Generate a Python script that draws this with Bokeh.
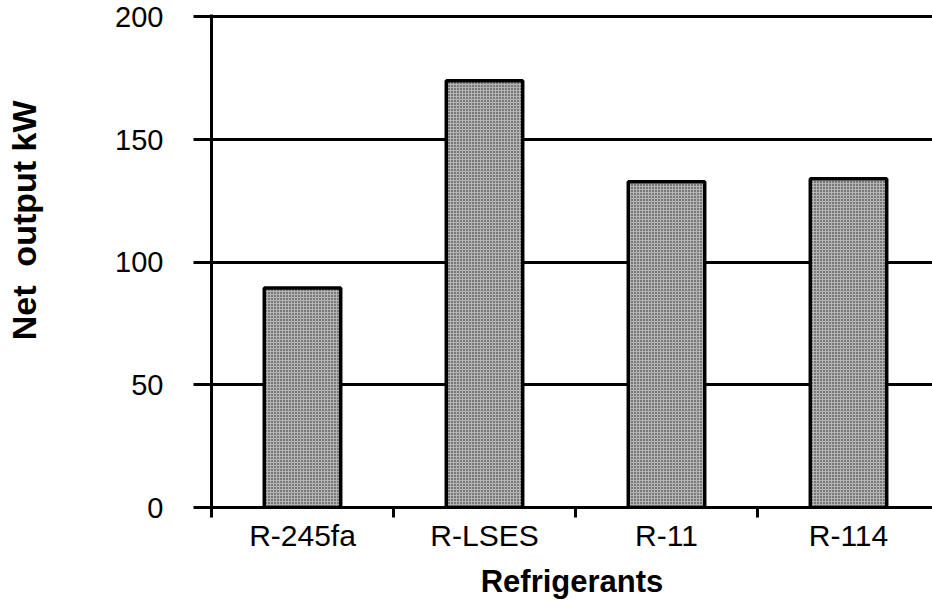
import math
from bokeh.plotting import figure
from bokeh.layouts import row
from bokeh.models import Range1d, FixedTicker, ColumnDataSource
from bokeh.core.properties import value
from bokeh.embed import file_html
from bokeh.resources import INLINE

categories = ["R-245fa", "R-LSES", "R-11", "R-114"]
net_output = [89.5, 174, 132.8, 134]
y_ticks = [0, 50, 100, 150, 200]
y_title = "Net\u00a0 output kW"
x_title = "Refrigerants"

centers = [i + 0.5 for i in range(len(categories))]
boundaries = list(range(len(categories)))
src = ColumnDataSource(dict(x=centers, top=net_output, cat=categories))

W, H = 932, 601
LEFT_W = 60                       # narrow strip holding the y title
FRAME_LEFT, FRAME_BOTTOM = 211, 507
CAT_PX = 182
FONT = "Liberation Sans"

# ---- left strip with the rotated y-axis title ----
lt = figure(width=LEFT_W, height=H, output_backend="svg", toolbar_location=None,
            x_range=Range1d(0, LEFT_W), y_range=Range1d(0, H),
            x_axis_type=None, y_axis_type=None,
            min_border_left=0, min_border_right=0, min_border_top=0, min_border_bottom=0)
lt.outline_line_color = None
lt.grid.visible = False
lt.background_fill_color = "white"
lt.border_fill_color = "white"
lt.text(x=[23.5], y=[H - 251], text=[y_title], angle=math.pi / 2,
        text_align="center", text_baseline="middle",
        text_font=value(FONT), text_font_style="bold", text_font_size="34px",
        text_color="black")

# ---- main chart ----
MW = W - LEFT_W
p = figure(width=MW, height=H, output_backend="svg", toolbar_location=None,
           x_range=Range1d(0, (W - FRAME_LEFT) / CAT_PX), y_range=Range1d(0, 201),
           min_border_left=FRAME_LEFT - LEFT_W, min_border_right=0, min_border_top=14,
           min_border_bottom=H - FRAME_BOTTOM)
p.outline_line_color = None
p.background_fill_color = "white"
p.border_fill_color = "white"

p.vbar(x="x", top="top", bottom=0, width=0.42, source=src,
       fill_color="#b4b4b4", line_color="black", line_width=3.5,
       hatch_pattern="dot", hatch_color="#1e1e1e", hatch_scale=3, hatch_weight=1.5)

# x axis
xa = p.xaxis[0]
xa.ticker = FixedTicker(ticks=centers, minor_ticks=boundaries)
xa.major_label_overrides = {c: n for c, n in zip(centers, categories)}
xa.major_tick_line_color = None
xa.major_tick_out = 0
xa.major_tick_in = 0
xa.minor_tick_out = 10
xa.minor_tick_in = 0
xa.minor_tick_line_color = "black"
xa.minor_tick_line_width = 3
xa.axis_line_width = 3
xa.axis_line_color = "black"
xa.major_label_text_font = FONT
xa.major_label_text_font_size = "30px"
xa.major_label_text_color = "black"
xa.major_label_standoff = 1
xa.axis_label = x_title
xa.axis_label_text_font = FONT
xa.axis_label_text_font_style = "bold"
xa.axis_label_text_font_size = "31px"
xa.axis_label_text_color = "black"
xa.axis_label_standoff = 9

# y axis
ya = p.yaxis[0]
ya.ticker = FixedTicker(ticks=y_ticks)
ya.minor_tick_line_color = None
ya.major_tick_out = 18
ya.major_tick_in = 0
ya.major_tick_line_width = 3
ya.major_tick_line_color = "black"
ya.axis_line_width = 3
ya.axis_line_color = "black"
ya.major_label_text_font = FONT
ya.major_label_text_font_size = "29px"
ya.major_label_text_color = "black"
ya.major_label_standoff = 30

p.xgrid.visible = False
p.ygrid.grid_line_color = "black"
p.ygrid.grid_line_width = 3
p.ygrid.grid_line_alpha = 1

layout = row(lt, p, spacing=0)
open("out.html", "w").write(file_html(layout, INLINE))
